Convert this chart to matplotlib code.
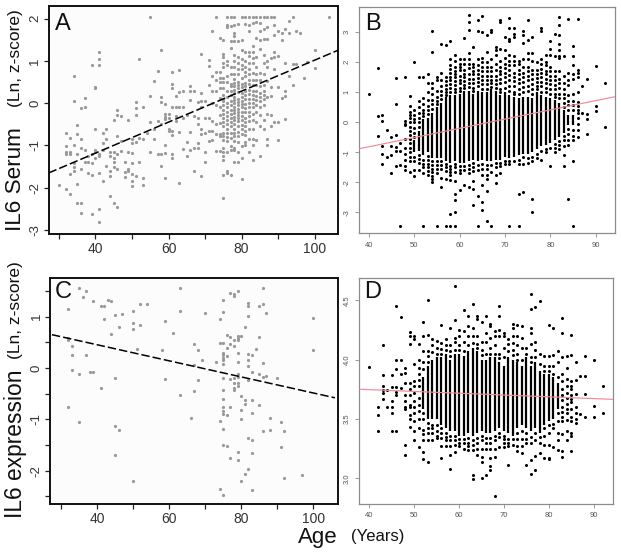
import matplotlib
matplotlib.use('Agg')
import matplotlib.pyplot as plt

W, H = 621, 555

# panel A - serum, one list of values per age column
a_ages = [30,32,33,34,35,36,37,38,39,40,41,42,43,44,45,46,47,48,49,50,51,52,53,54,55,56,57,58,59,60,
          61,62,63,64,65,66,67,68,69,70,71,72,73,74,75,76,77,78,79,80,81,82,83,84,85,86,87,88,89,90,
          91,92,93,94,95,96,97,98,100,104]
a_vals = [
    [-1.93],
    [-0.7,-1.02,-1.15,-1.2,-2.02],
    [-0.82,-1.15,-1.2,-1.68,-2.16],
    [0.65,0.06,-0.98,-1.42,-1.5,-1.6],
    [-0.52,-0.72,-1.2,-1.92,-2.37],
    [-0.12,-0.85,-1.05,-1.55,-2.36,-2.6],
    [0.13,-0.1,-1.1,-1.38],
    [-1.25,-1.4,-1.65],
    [0.9,-1.2,-1.42,-1.7,-2.63],
    [0.38,0.35,-0.6,-1.1,-1.15,-1.3],
    [1.2,1.05,0.9,-1.2,-1.25,-1.65,-2.5,-2.82],
    [-0.7,-0.95,-1.1,-1.85],
    [-0.6,-0.85,-1.48],
    [-1.15,-1.25,-1.6,-1.72,-2.2],
    [-0.4,-1.15,-1.3,-1.4,-1.5,-2.37],
    [-0.17,-0.27,-0.78,-1.2,-1.55,-2.45],
    [-0.3,-0.9,-1.12],
    [-1.4,-1.62,-1.75],
    [-0.4,-1.15,-1.55,-1.6],
    [-0.85,-0.95,-1.18,-1.42,-1.68,-1.85,-1.95],
    [0.03,-0.12,-0.28,-0.92,-1.72],
    [1.05,-0.82,-1.4],
    [-0.08,-0.85,-1.78,-1.93],
    [-0.7],
    [2.05,0.18,-0.45,-1.15],
    [0.52,-0.62,-0.85],
    [0.76,-0.42,-1.2],
    [1.26,0.15,0.02,-0.5,-1.2,-1.48],
    [-0.03,-0.25,-0.32,-0.38,-1.0,-1.18,-1.77],
    [-0.25,-0.35,-0.6,-0.65],
    [0.75,0.45,0.35,-0.1,-0.65,-0.75,-1.2,-1.3],
    [0.18,-0.08,-0.3,-0.42],
    [0.78,0.27,-0.08,-0.68,-1.88],
    [0.28,-0.08,-0.35,-1.08],
    [-0.28,-0.92,-1.25],
    [0.4,0.28,0.08,-0.68,-1.1],
    [0.28,-0.3,-1.05,-1.6],
    [0.03,-0.35,-0.5,-0.95,-1.05],
    [1.17,0.23,0.05,-0.1,-0.6,-0.72,-1.73],
    [0.05,-0.35,-0.7,-1.15,-1.38],
    [1.03,0.88,0.42,-0.35,-0.65,-0.9],
    [1.72,0.65,0.3,0.0,-0.42,-0.65,-0.88],
    [2.05,0.75,0.55,0.28,-0.05,-0.5,-0.72,-1.12],
    [1.55,0.75,0.6,0.5,0.35,0.12,-0.1,-0.28,-0.48,-0.72,-0.78,-1.12],
    [1.5,1.17,1.1,0.95,0.85,0.6,0.5,0.35,0.2,0.1,0.05,-0.05,-0.15,-0.25,-0.35,-0.45,-0.55,-0.7,-0.78,-0.88,-1.05,-1.15,-1.25,-1.35,-1.7,-2.24],
    [2.05,1.85,1.8,1.0,0.9,0.65,0.5,0.3,0.15,0.0,-0.1,-0.2,-0.3,-0.4,-0.5,-0.6,-0.7,-0.8,-0.9,-1.15,-1.6,-1.65],
    [2.05,1.82,1.48,1.3,0.85,0.7,0.45,0.4,0.3,0.2,0.05,-0.05,-0.15,-0.25,-0.35,-0.45,-0.55,-0.7,-0.82,-1.02,-1.1,-1.7],
    [2.05,1.85,1.65,1.58,1.48,1.15,1.0,0.85,0.7,0.58,0.48,0.4,0.32,0.25,0.15,0.08,0.0,-0.08,-0.16,-0.24,-0.32,-0.4,-0.5,-0.6,-0.7,-0.78,-0.9,-1.05,-1.1,-1.38],
    [1.88,1.48,1.1,0.95,0.8,0.7,0.5,0.42,0.35,0.27,0.1,0.03,-0.05,-0.13,-0.2,-0.28,-0.35,-0.43,-0.55,-0.68,-0.78,-0.92,-1.15,-1.38],
    [2.05,1.5,1.25,1.05,0.9,0.82,0.6,0.45,0.38,0.25,0.15,0.05,-0.03,-0.1,-0.2,-0.3,-0.4,-0.52,-0.6,-0.72,-1.02,-1.3,-1.8],
    [2.05,1.87,1.22,1.0,0.85,0.75,0.65,0.48,0.4,0.28,0.2,0.1,-0.02,-0.12,-0.22,-0.35,-0.45,-0.55,-0.65,-0.75,-0.92,-1.0],
    [2.05,1.85,1.72,1.2,1.12,0.95,0.82,0.7,0.55,0.45,0.32,0.22,0.1,0.0,-0.1,-0.2,-0.3,-0.42,-0.6,-0.85,-1.15],
    [2.05,1.9,1.35,1.2,1.08,0.95,0.72,0.55,0.42,0.3,0.2,0.1,0.0,-0.1,-0.25,-0.4,-0.62,-0.85,-1.0,-1.35],
    [2.05,1.92,1.55,1.1,0.85,0.7,0.55,0.42,0.28,0.18,0.08,-0.05,-0.2,-0.45,-0.88],
    [2.05,1.9,1.7,1.5,1.28,0.72,0.55,0.4,0.25,0.15,0.05,-0.1,-0.28,-0.55,-1.25],
    [2.05,1.75,1.52,1.15,0.95,0.7,0.42,0.3,0.2,0.1,-0.05,-0.4,-0.6],
    [2.05,1.8,1.52,1.0,0.85,0.52,0.15,-0.25,-0.85,-1.0],
    [2.05,1.08,0.38,0.18,-0.28,-0.55],
    [2.05,1.85,1.62,1.22,1.1,0.82,-0.45],
    [1.7,1.12,0.38,-0.45,-0.88],
    [1.65,1.5,0.13],
    [1.75,0.95,0.28,0.18,-0.38],
    [1.95,1.65,0.65],
    [2.05,0.92,0.42],
    [1.7,0.92],
    [1.65],
    [0.6],
    [0.98],
    [1.27,0.83],
    [2.05],
]
a_line_x = [27.2, 106.3]
a_line_y = [-1.65, 1.25]

# panel C - expression
c_ages = [32,33,35,36,37,38,39,41,42,43,44,45,46,47,50,51,52,54,58,59,61,63,66,67,68,69,70,73,74,75,
          76,77,78,79,80,81,82,83,84,85,86,87,88,90,91,92,97,100]
c_vals = [
    [1.15,0.58,0.55,-0.75],
    [0.42,0.25,-0.03],
    [1.55,-0.12,-1.05],
    [1.38],
    [1.5,0.26],
    [-0.07],
    [1.3,-0.07],
    [1.2,-0.38],
    [1.2,0.95],
    [1.32],
    [1.3,0.67],
    [1.03,-0.2,-1.12,-1.7],
    [0.8,-1.2],
    [1.05],
    [1.12,0.88,0.76,-2.2],
    [0.38],
    [1.25,0.83],
    [1.24],
    [0.36],
    [0.92,-0.22],
    [0.68],
    [1.55,1.12,-0.52],
    [-0.97],
    [0.46,0.06,-0.45],
    [0.36,-0.23],
    [0.15],
    [1.08],
    [0.12],
    [0.96,0.48,-1.03,-2.35],
    [1.33,1.1,0.48,0.3,0.25,0.2,0.15,0.08,-0.2,-0.42,-0.6,-0.75,-0.83,-0.9,-1.18,-1.5,-2.47],
    [0.64,0.4,0.24,-0.92,-1.52],
    [1.46,0.6,0.47,-0.22,-0.75,-1.75],
    [1.45,1.4,0.55,0.42,-0.2,-0.3,-0.38,-0.43],
    [1.5,0.62,0.58,0.55,0.3,0.12,-0.12,-0.17,-0.3,-0.35,-1.63,-1.8],
    [0.62,-0.55,-0.82,-1.0,-2.2],
    [0.8,-0.63,-0.7,-2.06],
    [1.27,1.2,1.02,0.27,0.15,0.03,-0.23,-1.36,-1.97],
    [0.25,-0.07,-0.62,-0.87,-1.4,-1.65,-2.38],
    [0.37],
    [1.2,0.6,-0.12,-0.72],
    [1.55,1.25,0.09,-0.18,-1.22],
    [1.08,-0.15],
    [-0.97,-1.2],
    [-0.2],
    [-1.05,-1.53],
    [-1.22,-2.14],
    [-2.08],
    [0.98,0.36],
]
c_line_x = [27.5, 106.0]
c_line_y = [0.65, -0.58]

# panel B - the dots of the middle ages merge into solid columns in the picture,
# so those are kept as low/high of each column and the separate dots are listed below
b_core_age = [50,51,52,53,54,55,56,57,58,59,60,61,62,63,64,65,66,67,68,69,70,71,72,73,74,75,76,77,78,79,80,81,82,83,84,85]
b_core_lo = [-1.0,-0.95,-1.1,-1.0,-1.2,-1.2,-1.2,-1.3,-1.35,-1.3,-1.35,-1.35,-1.3,-1.25,-1.3,-1.25,-1.3,-1.3,-1.25,-1.25,-1.15,-1.2,-1.15,-1.1,-1.05,-1.05,-1.0,-0.9,-0.8,-0.75,-0.7,-0.6,-0.5,-0.35,-0.1,-0.1]
b_core_hi = [-0.6,-0.3,0.1,0.15,0.3,0.5,0.65,0.85,0.9,0.9,0.95,1.05,1.05,0.95,1.05,1.0,1.0,1.1,1.05,0.9,1.0,0.9,0.85,0.8,0.85,0.85,0.8,1.0,0.9,0.85,0.8,0.75,0.65,0.4,0.25,0.25]
b_ages = [40,42,43,44,45,46,47,48,49,50,51,52,53,54,55,56,57,58,59,60,61,62,63,64,65,66,67,68,69,70,
          71,72,73,74,75,76,77,78,79,80,81,82,83,84,85,86,87,88,90,92]
b_vals = [
    [0.93],
    [1.82,0.22,-0.45],
    [0.25,0.05,-0.78,-1.05,-1.38],
    [-0.25,-1.15],
    [-0.48,-0.78,-1.1,-1.7],
    [1.48,0.6,-0.42,-0.82,-0.95,-1.45],
    [-0.7,-0.95,-1.42,-3.45],
    [1.5,0.05,-0.05,-0.1,-0.55,-0.85,-1.05,-1.25,-1.45,-1.58],
    [0.88,0.55,0.35,0.25,0.15,0.0,-0.15,-0.3,-0.42,-0.55,-0.7,-0.85,-1.0,-1.15,-1.3,-1.65],
    [2.02,0.42,0.25,0.1,0.0,-0.2,-0.35,-0.5,-1.15,-1.3,-1.6,-1.78],
    [1.52,0.7,0.5,0.3,0.15,0.0,-0.15,-1.1,-1.22,-1.35,-1.58],
    [1.5,0.8,0.6,0.42,0.3,0.2,-1.25,-1.38,-1.5,-1.7,-3.45],
    [1.62,1.3,1.0,0.75,0.55,0.4,0.28,-1.12,-1.25,-1.38,-1.5,-1.62,-1.75],
    [3.05,2.35,1.3,1.15,0.95,0.75,0.6,0.45,-1.3,-1.42,-1.55,-1.65,-1.78,-1.9,-2.0],
    [1.5,1.4,1.05,0.85,0.7,0.6,-1.3,-1.42,-1.55,-1.7,-3.45],
    [2.6,1.65,1.4,1.2,1.05,0.92,0.78,-1.3,-1.42,-1.55,-1.85,-2.15],
    [2.58,1.5,1.38,1.25,1.12,1.0,0.92,-1.4,-1.5,-1.62,-1.9,-3.45],
    [2.72,2.1,1.9,1.78,1.65,1.5,1.4,1.28,1.15,1.02,-1.45,-1.55,-1.65,-1.75,-1.92,-3.05,-3.45],
    [2.25,2.05,1.85,1.7,1.6,1.5,1.38,1.25,1.12,1.0,-1.4,-1.5,-1.65,-1.95,-2.4,-2.6,-3.0,-3.45],
    [2.1,1.95,1.85,1.75,1.55,1.42,1.3,1.15,1.05,-1.45,-1.58,-1.7,-2.25],
    [2.8,2.1,1.95,1.75,1.62,1.5,1.38,1.25,1.15,-1.45,-1.58,-2.1],
    [3.57,3.33,3.08,2.3,2.1,1.95,1.8,1.6,1.45,1.32,1.18,-1.42,-1.55,-1.68,-2.15],
    [2.5,1.95,1.85,1.72,1.6,1.45,1.3,1.15,1.05,-1.35,-1.5,-1.62,-1.95,-2.22,-2.75],
    [3.42,3.05,2.1,1.9,1.75,1.6,1.48,1.35,1.2,-1.42,-1.6,-2.45,-3.45],
    [3.55,3.0,2.15,2.0,1.85,1.7,1.55,1.42,1.28,1.12,-1.38,-1.55,-1.75,-2.08,-2.65,-2.92],
    [2.9,2.35,2.0,1.85,1.7,1.55,1.42,1.28,1.12,-1.42,-1.55,-1.75,-1.9,-2.3,-3.28],
    [3.08,3.0,2.1,1.85,1.7,1.55,1.42,1.3,1.18,-1.42,-1.65,-3.45],
    [2.52,2.4,2.25,1.95,1.75,1.55,1.4,1.28,1.15,-1.35,-1.5,-1.75,-2.02],
    [3.4,3.33,2.45,2.05,1.85,1.72,1.6,1.45,1.3,1.12,1.0,-1.35,-1.45,-1.7],
    [2.85,2.4,2.15,1.95,1.8,1.65,1.5,1.35,1.15,-1.28,-1.4],
    [3.48,3.15,2.78,2.7,2.25,2.05,1.9,1.75,1.58,1.4,1.22,1.05,-1.28,-1.4,-3.45],
    [3.15,2.95,2.85,2.2,2.05,1.9,1.65,1.5,1.38,1.2,1.02,0.95,-1.3],
    [2.05,1.95,1.75,1.6,1.45,1.3,1.12,0.95,-1.25,-1.4,-2.4,-3.45],
    [3.05,2.9,2.65,2.1,1.85,1.65,1.5,1.35,1.18,1.02,-1.15,-1.4,-2.32],
    [3.4,2.75,2.3,2.1,1.85,1.7,1.55,1.4,1.22,1.05,-1.2,-1.35],
    [2.85,2.32,2.05,1.75,1.6,1.45,1.28,1.12,0.95,-1.15,-1.3,-2.55,-3.0],
    [2.0,1.75,1.62,1.48,1.35,1.22,1.1,-1.05,-1.2],
    [3.15,3.05,2.1,1.95,1.78,1.65,1.5,1.35,1.2,1.02,-0.95,-1.25],
    [2.25,2.0,1.9,1.72,1.6,1.45,1.3,1.15,1.0,-0.88,-1.0],
    [2.7,2.45,2.25,1.85,1.7,1.55,1.42,1.28,1.12,0.95,-0.85,-1.45],
    [2.95,2.2,1.7,1.55,1.4,1.25,1.1,0.95,0.85,-0.72,-0.85,-0.98],
    [3.52,3.25,2.9,2.6,2.4,2.2,2.15,1.7,1.45,1.3,1.15,0.95,0.8,-0.62,-0.75,-0.9],
    [2.2,1.55,1.3,1.1,0.95,0.8,0.65,0.5,-0.45,-0.6,-0.8,-1.08,-1.47],
    [3.43,1.65,1.4,1.25,0.9,0.72,0.58,0.42,-0.22,-0.4,-0.6,-0.75,-2.55],
    [2.55,2.2,1.9,1.6,1.45,0.95,0.72,0.58,0.42,-0.25,-0.45,-0.6,-1.3,-3.45],
    [3.43,1.75,1.65,1.5,1.0,0.68,0.55,0.42,0.3,0.15,-0.05,-0.25,-0.5],
    [1.2,0.3],
    [1.45,0.28,0.12,-0.38],
    [1.87,0.55,0.38],
    [1.3,-0.15],
]
b_line_x = [38.0, 94.2]
b_line_y = [-0.88, 0.85]

# panel D - same layout as B
d_core_age = [52,53,54,55,56,57,58,59,60,61,62,63,64,65,66,67,68,69,70,71,72,73,74,75,76,77,78,79,80,81,82]
d_core_lo = [3.58,3.5,3.5,3.5,3.45,3.42,3.4,3.4,3.36,3.36,3.38,3.36,3.38,3.4,3.38,3.38,3.4,3.42,3.4,3.38,3.36,3.42,3.45,3.42,3.4,3.42,3.38,3.45,3.48,3.5,3.58]
d_core_hi = [3.85,3.95,4.0,4.02,4.02,4.05,4.0,4.05,4.05,4.03,4.07,4.1,4.07,4.0,4.0,4.02,4.02,3.98,3.95,4.02,4.0,3.98,3.95,4.02,3.95,3.98,3.9,3.88,3.88,3.85,3.8]
d_ages = [40,42,43,44,45,46,47,48,49,50,51,52,53,54,55,56,57,58,59,60,61,62,63,64,65,66,67,68,69,70,
          71,72,73,74,75,76,77,78,79,80,81,82,83,84,85,86,87,88,90,92]
d_vals = [
    [3.94],
    [3.6,3.53,3.4],
    [4.12,3.87,3.78,3.74,3.72,3.67],
    [3.74,3.6],
    [3.87,3.77,3.65,3.6,3.55,3.4],
    [4.45,4.0,3.92,3.77,3.73,3.7,3.4],
    [4.36,4.0,3.88,3.76],
    [3.93,3.89,3.8,3.7,3.65,3.6,3.58,3.28,3.2],
    [4.23,4.2,4.13,3.8,3.75,3.7,3.62,3.6,3.53,3.5,3.43],
    [4.2,4.17,3.96,3.82,3.78,3.72,3.65,3.6,3.55,3.48,3.4,3.32],
    [4.13,4.0,3.93,3.88,3.83,3.78,3.68,3.62,3.57,3.5,3.42,3.26],
    [4.32,4.2,4.07,3.98,3.92,3.55,3.5,3.41,3.37,3.32,3.22,3.16],
    [4.5,4.21,4.07,4.03,3.98,3.47,3.42,3.38,3.32,3.14],
    [4.17,4.12,4.06,3.45,3.42,3.38,3.32],
    [4.16,4.1,4.05,3.45,3.4,3.36,3.34],
    [4.29,4.14,4.09,4.05,3.42,3.38,3.34,3.27,3.17],
    [4.17,4.12,4.08,3.38,3.35,3.32,3.27],
    [4.27,4.12,4.07,4.03,3.36,3.32,3.27,3.2,3.08],
    [4.62,4.33,4.18,4.15,4.08,3.36,3.32,3.28,3.22],
    [4.25,4.2,4.12,4.08,3.33,3.3,3.27],
    [4.42,4.24,4.15,4.07,3.33,3.3,3.25],
    [4.37,4.28,4.2,4.12,3.34,3.3,3.27,3.24],
    [4.47,4.27,4.2,4.14,3.32,3.28,3.24,3.03,2.99],
    [4.37,4.34,4.2,4.13,4.1,3.34,3.3,3.25,3.2],
    [4.32,4.15,4.08,4.04,3.36,3.32,3.25,3.18,3.14,3.0],
    [4.37,4.22,4.15,4.05,3.34,3.3,3.25,3.03],
    [4.3,4.28,4.18,4.1,4.05,3.34,3.3,3.25,3.17,3.1,3.07],
    [4.24,4.2,4.12,4.05,3.36,3.32,3.25,3.18,2.85],
    [4.45,4.37,4.25,4.2,4.05,4.01,3.38,3.35,3.26],
    [4.22,4.2,4.1,4.02,3.36,3.33,3.3,3.26],
    [4.17,4.13,4.07,3.33,3.3,3.27,3.11],
    [4.3,4.27,4.2,4.14,4.08,4.04,3.33,3.28],
    [4.29,4.2,4.12,4.05,4.0,3.38,3.33,3.27,3.23],
    [4.28,4.18,4.1,4.0,3.4,3.33,3.27,3.21],
    [4.1,4.05,3.38,3.33,3.3,3.11],
    [4.55,4.43,4.27,4.22,4.13,4.02,3.98,3.35,3.3,3.15,3.04],
    [4.44,4.15,4.08,4.02,3.38,3.32,3.19,3.07],
    [4.49,4.05,3.96,3.35,3.3,3.21],
    [4.03,3.95,3.9,3.42,3.36,3.28,3.17],
    [4.29,4.03,3.95,3.9,3.45,3.38,3.28,3.17,3.16],
    [4.27,4.04,3.95,3.88,3.46,3.42,3.26],
    [4.07,3.98,3.85,3.55,3.48,3.38,3.32,3.24],
    [4.35,4.22,4.02,3.88,3.82,3.75,3.7,3.66,3.6,3.56,3.52,3.48,3.37,3.23,3.18],
    [4.03,3.93,3.84,3.78,3.72,3.68,3.63,3.58,3.55,3.49,3.4,3.32],
    [4.21,4.04,3.82,3.78,3.75,3.7,3.67,3.64,3.58,3.52,3.48,3.38,3.36,3.23],
    [3.98,3.83,3.71,3.6,3.55,3.5,3.47],
    [3.86,3.54],
    [4.03,3.86,3.71,3.52],
    [4.0,3.61,3.52],
    [3.78,3.55],
]
d_line_x = [38.0, 94.2]
d_line_y = [3.75, 3.665]

plt.rcParams['font.family'] = ['Liberation Sans', 'DejaVu Sans']

fig = plt.figure(figsize=(W / 100, H / 100), dpi=100)


def make_axes(left, right, top, bottom):
    return fig.add_axes([left / W, 1 - bottom / H, (right - left) / W, (bottom - top) / H])


def flat(ages, vals):
    xs, ys = [], []
    for age, col in zip(ages, vals):
        for v in col:
            xs.append(age)
            ys.append(v)
    return xs, ys


def gray_panel(ax, ages, vals, line_x, line_y, xlim, ylim, yticks, yminor, ylabels):
    xs, ys = flat(ages, vals)
    ax.set_facecolor('#fcfcfc')
    ax.plot(xs, ys, 'o', color='#999999', ms=2.3, mew=0, zorder=2)
    ax.plot(line_x, line_y, color='black', lw=1.1, dashes=(5.5, 2), zorder=3)
    ax.set_xlim(xlim)
    ax.set_ylim(ylim)
    ax.set_xticks([30, 40, 50, 60, 70, 80, 90, 100])
    ax.set_xticklabels(['', '40', '', '60', '', '80', '', '100'], fontsize=10, color='#333333')
    ax.set_yticks(yticks)
    ax.set_yticklabels(ylabels, fontsize=9.5, color='#333333', rotation=90, va='center')
    if yminor:
        ax.set_yticks(yminor, minor=True)
    ax.tick_params(axis='both', which='both', length=3.5, width=0.9, color='#222222', pad=2)
    for s in ax.spines.values():
        s.set_linewidth(1.4)
        s.set_color('#111111')


def black_panel(ax, core_age, core_lo, core_hi, ages, vals, line_x, line_y, xlim, ylim, yticks, ylabels):
    xs, ys = flat(ages, vals)
    ax.vlines(core_age, core_lo, core_hi, color='black', lw=1.6, zorder=2)
    ax.plot(xs, ys, 'o', color='black', ms=2.2, mew=0, zorder=2)
    ax.plot(line_x, line_y, color='#f08a98', lw=0.85, zorder=3)
    ax.set_xlim(xlim)
    ax.set_ylim(ylim)
    ax.set_xticks([40, 50, 60, 70, 80, 90])
    ax.tick_params(axis='x', labelsize=5.5, labelcolor='#555555')
    ax.set_yticks(yticks)
    ax.set_yticklabels(ylabels, fontsize=5.5, color='#555555', rotation=90, va='center')
    ax.tick_params(axis='both', length=3, width=0.6, color='#888888', pad=3)
    for s in ax.spines.values():
        s.set_linewidth(0.9)
        s.set_color('#8c8c8c')


ax_a = make_axes(48.7, 337.7, 6, 234)
gray_panel(ax_a, a_ages, a_vals, a_line_x, a_line_y, (27.2, 106.3), (-3.095, 2.3),
           [-3, -2, -1, 0, 1, 2], None, ['-3', '-2', '-1', '0', '1', '2'])

ax_b = make_axes(359.3, 614.7, 7.3, 233.3)
black_panel(ax_b, b_core_age, b_core_lo, b_core_hi, b_ages, b_vals, b_line_x, b_line_y,
            (37.93, 94.18), (-3.7, 3.83), [-3, -2, -1, 0, 1, 2, 3], ['-3', '-2', '-1', '0', '1', '2', '3'])

ax_c = make_axes(50.3, 338.3, 277.7, 504.3)
gray_panel(ax_c, c_ages, c_vals, c_line_x, c_line_y, (27.05, 106.93), (-2.655, 1.76),
           [-2, -1, 0, 1], [-2.5, -1.5, -0.5, 0.5, 1.5], ['-2', '-1', '0', '1'])

ax_d = make_axes(359.3, 612.7, 277.7, 503.7)
black_panel(ax_d, d_core_age, d_core_lo, d_core_hi, d_ages, d_vals, d_line_x, d_line_y,
            (37.84, 94.16), (2.786, 4.69), [3.0, 3.5, 4.0, 4.5], ['3.0', '3.5', '4.0', '4.5'])


def label(x, y, s, size, **kw):
    fig.text(x / W, 1 - y / H, s, fontsize=size, ha='center', va='center', color='#111111', **kw)


label(63, 24, 'A', 17)
label(373, 24, 'B', 17)
label(63, 292, 'C', 17)
label(373, 292, 'D', 17)

label(16, 179, 'IL6 Serum', 16.2, rotation=90)
label(16, 58, '(Ln, z-score)', 12.5, rotation=90)
label(16, 444, 'IL6 expression', 16.4, rotation=90)
label(16, 310, '(Ln, z-score)', 12.5, rotation=90)
label(318, 537, 'Age', 16)
label(378, 537, '(Years)', 12)

fig.savefig('out.png', dpi=100)
